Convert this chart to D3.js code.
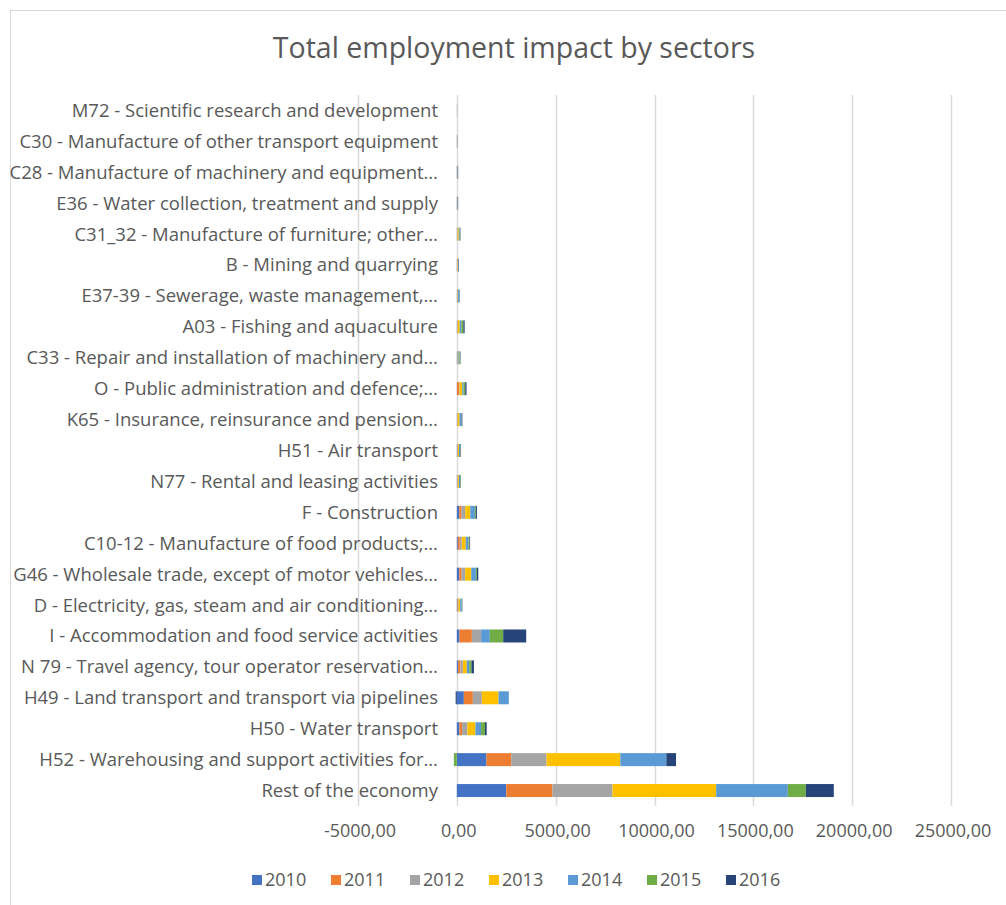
<!DOCTYPE html>
<html>
  <head>
    <meta charset="UTF-8" />
    <title>Total employment impact by sectors</title>
    <style>
      body { margin: 0; background: #fff; }
      svg { font-family: "Open Sans", sans-serif; }
    </style>
  </head>
  <body>
    <svg></svg>
    <script src="https://d3js.org/d3.v7.min.js"></script>
    <script>
      // categories, top to bottom as shown
      var sectors = [
        "M72 - Scientific research and development",
        "C30 - Manufacture of other transport equipment",
        "C28 - Manufacture of machinery and equipment…",
        "E36 - Water collection, treatment and supply",
        "C31_32 - Manufacture of furniture; other…",
        "B - Mining and quarrying",
        "E37-39 - Sewerage, waste management,…",
        "A03 - Fishing and aquaculture",
        "C33 - Repair and installation of machinery and…",
        "O - Public administration and defence;…",
        "K65 - Insurance, reinsurance and pension…",
        "H51 - Air transport",
        "N77 - Rental and leasing activities",
        "F - Construction",
        "C10-12 - Manufacture of food products;…",
        "G46 - Wholesale trade, except of motor vehicles…",
        "D - Electricity, gas, steam and air conditioning…",
        "I - Accommodation and food service activities",
        "N 79 - Travel agency, tour operator reservation…",
        "H49 - Land transport and transport via pipelines",
        "H50 - Water transport",
        "H52 - Warehousing and support activities for…",
        "Rest of the economy"
      ];
      var years = ["2010", "2011", "2012", "2013", "2014", "2015", "2016"];

      // one array per year, same order as sectors
      var v2010 = [2, 5, 10, 10, 10, 10, 10, 15, 15, 10, 10, 10, 10, 120, 50, 120, 30, 135, 65, 355, 130, 1500, 2500];
      var v2011 = [2, 5, 5, 5, 10, 25, 10, 15, 15, 115, 20, 25, 20, 120, 100, 120, 30, 625, 120, 455, 135, 1250, 2340];
      var v2012 = [2, 25, 5, 5, 15, 10, 15, 15, 25, 15, 15, 20, 20, 185, 100, 185, 30, 470, 120, 455, 270, 1790, 3035];
      var v2013 = [2, 5, 10, 10, 60, 15, 20, 100, 25, 135, 90, 55, 55, 255, 200, 305, 80, 0, 200, 845, 405, 3730, 5245];
      var v2014 = [2, 5, 10, 10, 30, 25, 70, 85, 45, 65, 90, 50, 55, 235, 135, 235, 80, 440, 120, 520, 285, 2330, 3625];
      var v2015 = [2, 3, 5, 5, 25, 5, 10, 100, 40, 85, 15, 15, 20, 50, 50, 50, 15, 675, 120, 0, 200, -150, 910];
      var v2016 = [2, 2, 20, 20, 30, 20, 15, 65, 20, 65, 40, 25, 20, 50, 35, 70, 15, 1165, 120, -60, 85, 490, 1415];

      var colours = ["#4472C4", "#ED7D31", "#A5A5A5", "#FFC000", "#5B9BD5", "#70AD47", "#264478"];
      var xTicks = [-5000, 0, 5000, 10000, 15000, 20000, 25000];

      var series = [v2010, v2011, v2012, v2013, v2014, v2015, v2016];
      var rows = sectors.map(function (s, i) {
        var r = { sector: s };
        years.forEach(function (y, j) { r[y] = series[j][i]; });
        return r;
      });

      var width = 1006, height = 905;
      var svg = d3.select("svg").attr("width", width).attr("height", height);

      // chart frame
      svg.append("rect")
        .attr("x", 10.5).attr("y", 10.5)
        .attr("width", 1010).attr("height", 905)
        .attr("fill", "#fff").attr("stroke", "#d9d9d9");

      svg.append("text")
        .attr("x", 514).attr("y", 58)
        .attr("text-anchor", "middle")
        .attr("font-size", 28.5)
        .attr("fill", "#595959")
        .text("Total employment impact by sectors");

      var x = d3.scaleLinear().domain([-5000, 25000]).range([358, 951]);
      var y = d3.scaleBand().domain(sectors).range([95, 806])
        .paddingInner(0.58).paddingOuter(0.29);

      // gridlines
      svg.append("g").selectAll("line")
        .data(xTicks)
        .join("line")
        .attr("x1", function (d) { return Math.round(x(d)) + 0.5; })
        .attr("x2", function (d) { return Math.round(x(d)) + 0.5; })
        .attr("y1", 95).attr("y2", 806)
        .attr("stroke", "#d9d9d9").attr("stroke-width", 1.5);

      // category labels
      svg.append("g").selectAll("text")
        .data(sectors)
        .join("text")
        .attr("x", 438)
        .attr("y", function (d) { return y(d) + y.bandwidth() / 2; })
        .attr("dy", "0.35em")
        .attr("text-anchor", "end")
        .attr("font-size", 18.5)
        .attr("fill", "#595959")
        .text(function (d) { return d; });

      // tick labels
      svg.append("g").selectAll("text")
        .data(xTicks)
        .join("text")
        .attr("x", function (d) { return x(d) + 2; })
        .attr("y", 831)
        .attr("dy", "0.35em")
        .attr("text-anchor", "middle")
        .attr("font-size", 18)
        .attr("fill", "#595959")
        .text(function (d) { return d.toFixed(2).replace(".", ","); });

      var stack = d3.stack().keys(years).offset(d3.stackOffsetDiverging);
      var stacked = stack(rows);

      svg.append("g").selectAll("g")
        .data(stacked)
        .join("g")
        .attr("fill", function (d, i) { return colours[i]; })
        .selectAll("rect")
        .data(function (d) { return d; })
        .join("rect")
        .attr("x", function (d) { return x(Math.min(d[0], d[1])); })
        .attr("y", function (d) { return y(d.data.sector); })
        .attr("width", function (d) { return Math.abs(x(d[1]) - x(d[0])); })
        .attr("height", y.bandwidth());

      // legend
      var legend = svg.append("g").selectAll("g")
        .data(years)
        .join("g")
        .attr("transform", function (d, i) { return "translate(" + (252 + i * 79) + ",880)"; });
      legend.append("rect")
        .attr("x", 0).attr("y", -5)
        .attr("width", 10).attr("height", 10)
        .attr("fill", function (d, i) { return colours[i]; });
      legend.append("text")
        .attr("x", 13).attr("y", 0)
        .attr("dy", "0.35em")
        .attr("font-size", 18)
        .attr("fill", "#595959")
        .text(function (d) { return d; });
    </script>
  </body>
</html>
